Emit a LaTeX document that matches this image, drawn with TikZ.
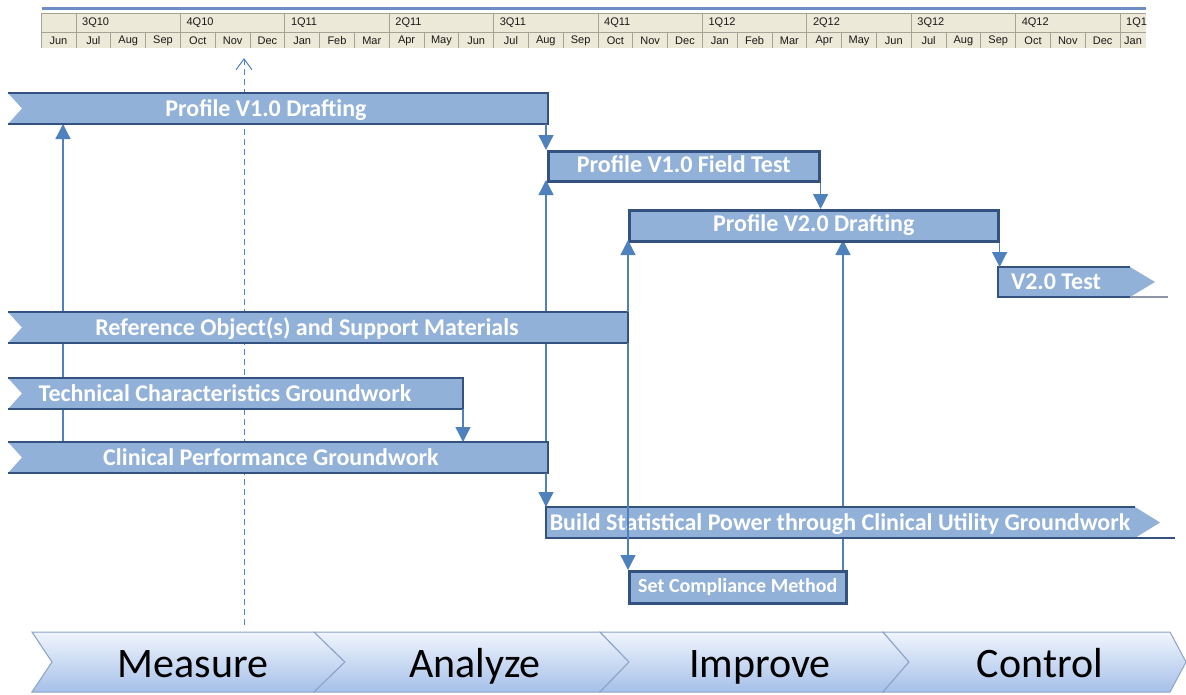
\documentclass[tikz,border=0pt]{standalone}
\usepackage{fontspec}
\setmainfont{Carlito}
\newfontfamily\hdrfont{Liberation Sans}
\usetikzlibrary{arrows.meta,calc}
\definecolor{barblue}{RGB}{146,177,216}
\definecolor{bardark}{RGB}{52,82,128}
\definecolor{linkblue}{RGB}{79,129,189}
\definecolor{hdrbg}{RGB}{236,233,216}
\definecolor{hdrline}{RGB}{165,162,150}
\definecolor{hdrtop}{RGB}{110,140,200}
\definecolor{chevtop}{RGB}{240,245,253}
\definecolor{chevbot}{RGB}{166,192,233}
\definecolor{chevline}{RGB}{140,163,200}
\definecolor{tailgray}{RGB}{140,150,165}
\begin{document}
\begin{tikzpicture}[x=1pt,y=-1pt,
  barfill/.style={fill=barblue},
  barline/.style={draw=bardark,line width=2.6pt},
  bartext/.style={text=white,font=\fontsize{24}{26}\selectfont\bfseries,inner sep=0pt,
     text height=17pt,text depth=5pt},
  rectbar/.style={fill=barblue,draw=bardark,line width=2.6pt,anchor=north west,inner sep=0pt,
     text=white,font=\fontsize{24}{26}\selectfont\bfseries},
  link/.style={draw=linkblue,line width=1.3pt,-{Triangle[width=15pt,length=15pt]}},
  hint/.style={draw=linkblue,line width=1pt,dash pattern=on 6pt off 4pt,
     -{Straight Barb[length=11pt,width=16pt,line width=1pt]}},
  hdr/.style={font=\hdrfont\fontsize{11}{12}\selectfont,inner sep=0pt,text=black!90},
  chev/.style={top color=chevtop,bottom color=chevbot,draw=chevline,line width=1pt},
  phase/.style={font=\fontsize{42}{46}\selectfont,inner sep=0pt,text=black,anchor=base}
]
\useasboundingbox (0,0) rectangle (1186,694);

% ---------- header timeline ----------
\draw[hdrtop,line width=3pt] (42,8) -- (1146,8);
\fill[hdrbg] (41,13) rectangle (1146,48);
\draw[hdrline,line width=0.7pt] (41,13) -- (1146,13);
\draw[hdrline,line width=0.7pt] (41,32) -- (1146,32);
\draw[hdrline,line width=0.7pt] (41,13) -- (41,48);
\foreach \k in {0,...,30} \draw[hdrline,line width=0.7pt] (76+34.8*\k,32) -- (76+34.8*\k,48);
\foreach \q in {0,...,10} \draw[hdrline,line width=0.7pt] (76+104.4*\q,13) -- (76+104.4*\q,32);
\node[hdr] (mjun0) at (58.5,40.5) {Jun};
\foreach \m [count=\i from 0] in {Jul,Aug,Sep,Oct,Nov,Dec,Jan,Feb,Mar,Apr,May,Jun,Jul,Aug,Sep,Oct,Nov,Dec,Jan,Feb,Mar,Apr,May,Jun,Jul,Aug,Sep,Oct,Nov,Dec}
  \node[hdr] (m\i) at (76+34.8*\i+17.4,40.5) {\m};
\foreach \q [count=\i from 0] in {3Q10,4Q10,1Q11,2Q11,3Q11,4Q11,1Q12,2Q12,3Q12,4Q12}
  \node[hdr,anchor=west] (q\i) at (76+104.4*\i+6,22.5) {\q};
\begin{scope}
  \clip (1120,13) rectangle (1146,48);
  \node[hdr,anchor=west] (q10) at (1126,22.5) {1Q13};
  \node[hdr,anchor=west] (m30) at (1124,40.5) {Jan};
\end{scope}

% ---------- dashed pointer ----------
\coordinate (hintS) at (244,625);
\coordinate (hintE) at (244,58);
\draw[hint] (hintS) -- (hintE);

% ---------- anchor points ----------
\fill[barfill] (8,93) -- (548,93) -- (548,124) -- (8,124) -- (22,108.5) -- cycle;
\coordinate (b1bl) at (63,124);
\coordinate (b1br) at (546,124);
\coordinate (b5tr) at (628,312);
\coordinate (b5br) at (628,343);
\coordinate (b6br) at (463,409);
\coordinate (b7tl) at (63,442);
\coordinate (b7br) at (546,473);
\coordinate (b2bl) at (546,180);
\coordinate (b8tl) at (546,507);
\coordinate (b3bl) at (628,240);
\coordinate (b9tl) at (628,570);
\coordinate (b3bm) at (843,240);
\coordinate (b9tr) at (843,570);

% links that run behind bars
\draw[link] (b7tl) -- (b1bl);
\draw[link] (b8tl) -- (b2bl);
\draw[link] (b9tr) -- (b3bm);

% ---------- notched bars ----------
\fill[barfill] (8,312) -- (628,312) -- (628,343) -- (8,343) -- (22,327.5) -- cycle;
\draw[barline] (8,312) -- (628,312) -- (628,343) -- (8,343);
\draw[bardark,line width=1.6pt] (628,283) -- (628,312);
\node[bartext] (b5) at (307,329) {Reference Object(s) and Support Materials};

\fill[barfill] (8,378) -- (463,378) -- (463,409) -- (8,409) -- (22,393.5) -- cycle;
\draw[barline] (8,378) -- (463,378) -- (463,409) -- (8,409);
\node[bartext] (b6) at (225,395) {Technical Characteristics Groundwork};

\fill[barfill] (8,442) -- (548,442) -- (548,473) -- (8,473) -- (22,457.5) -- cycle;
\draw[barline] (8,442) -- (548,442) -- (548,473) -- (8,473);
\node[bartext] (b7) at (271,459) {Clinical Performance Groundwork};

\draw[barline] (8,93) -- (548,93) -- (548,124) -- (8,124);
\node[bartext] (b1) at (266,110) {Profile V1.0 Drafting};

% ---------- rectangular bars ----------
\node[rectbar,minimum width=271pt,minimum height=30pt] (b2) at (547,150) {\rule{0pt}{17pt}\rule[-5pt]{0pt}{5pt}Profile V1.0 Field Test};
\node[rectbar,minimum width=369pt,minimum height=31pt] (b3) at (628,209) {\rule{0pt}{17pt}\rule[-5pt]{0pt}{5pt}Profile V2.0 Drafting};
\node[rectbar,minimum width=217pt,minimum height=32pt,font=\fontsize{20}{22}\selectfont\bfseries] (b9) at (628,570) {Set Compliance Method};

% ---------- pointed bars ----------
\fill[barfill] (998,267) -- (1130,267) -- (1155,282) -- (1130,297) -- (998,297) -- cycle;
\draw[barline] (1130,267) -- (998,267) -- (998,297) -- (1130,297);
\draw[tailgray,line width=1.2pt] (1130,297) -- (1168,297);
\node[bartext] (b4) at (1056,283) {V2.0 Test};
\coordinate (b4tl) at (998,267);

\fill[barfill] (546,507) -- (1135,507) -- (1160,522.5) -- (1135,538) -- (546,538) -- cycle;
\draw[barline] (1135,507) -- (546,507) -- (546,538) -- (1175,538);
\node[bartext] (b8) at (840,524) {Build Statistical Power through Clinical Utility Groundwork};

% ---------- remaining links ----------
\draw[link] (b1br) -- (b1br |- b2.north);
\draw[link] (b2.south east) -- (b2.south east |- b3.north);
\draw[link] (b3.south east) -- (b3.south east |- b4tl);
\draw[link] (b6br) -- (b6br |- b7tl);
\draw[link] (b7br) -- (b8tl);
\draw[link] (b5tr) -- (b3bl);
\draw[link] (b5br) -- (b9tl);

% ---------- phase chevrons ----------
\shade[chev] (32,632) -- (314,632) -- (345,662) -- (314,692) -- (32,692) -- (52,662) -- cycle;
\shade[chev] (314,632) -- (600,632) -- (629,662) -- (600,692) -- (314,692) -- (345,662) -- cycle;
\shade[chev] (600,632) -- (883,632) -- (909,662) -- (883,692) -- (600,692) -- (629,662) -- cycle;
\shade[chev] (883,632) -- (1170,632) -- (1186,662) -- (1170,692) -- (883,692) -- (909,662) -- cycle;
\node[phase] (p1) at (193,677) {Measure};
\node[phase] (p2) at (475,677) {Analyze};
\node[phase] (p3) at (760,677) {Improve};
\node[phase] (p4) at (1040,677) {Control};
\end{tikzpicture}
\end{document}
